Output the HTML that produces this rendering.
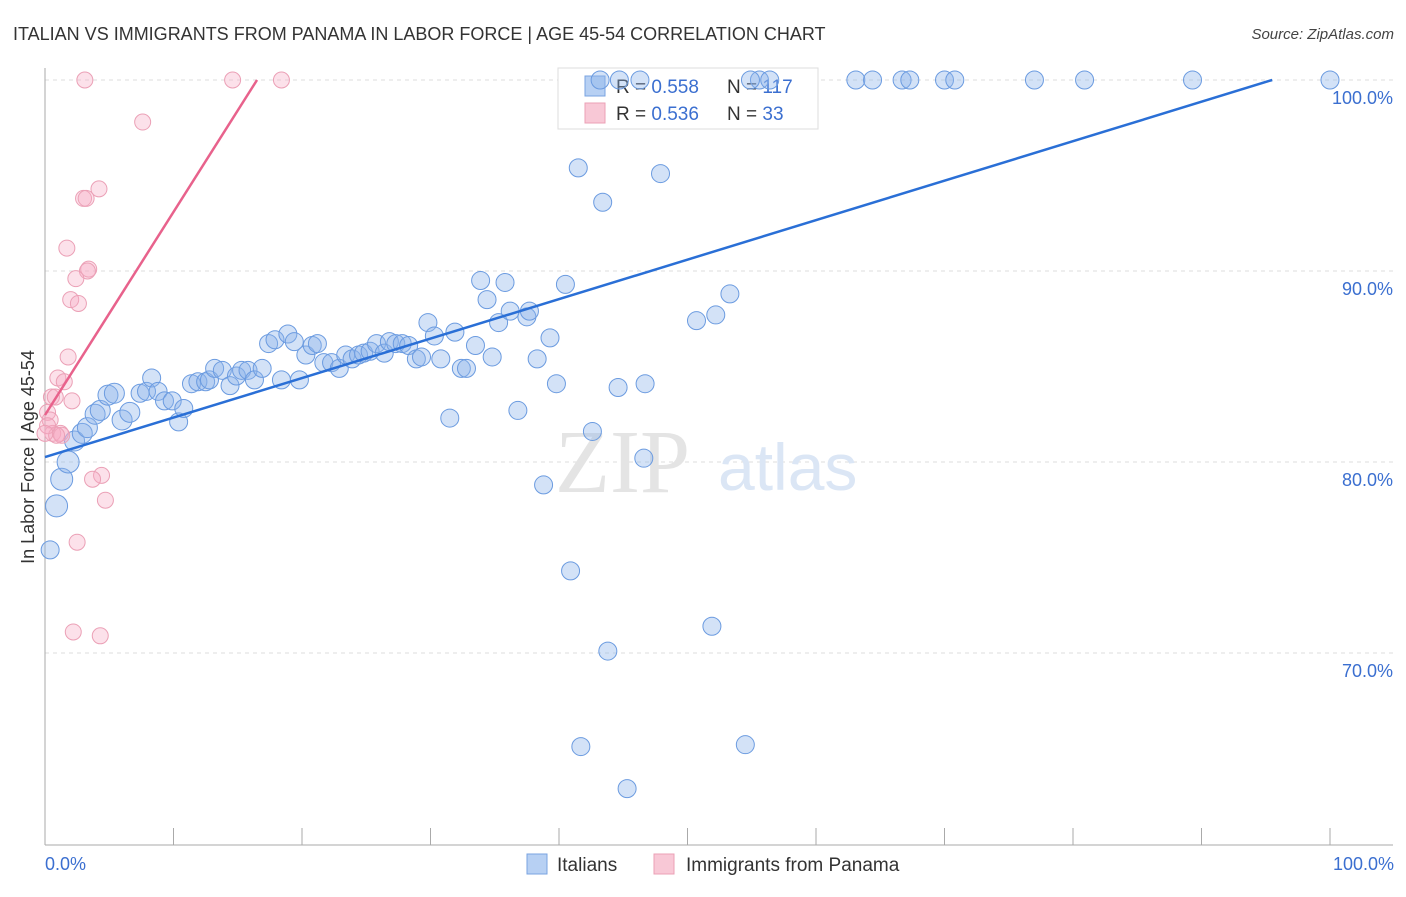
<!DOCTYPE html>
<html><head><meta charset="utf-8"><style>
body{margin:0;background:#fff;font-family:"Liberation Sans",sans-serif}
</style></head><body>
<svg id="chart" width="1406" height="892" xmlns="http://www.w3.org/2000/svg" font-family="Liberation Sans, sans-serif">
<text x="13" y="40" font-size="18" fill="#333">ITALIAN VS IMMIGRANTS FROM PANAMA IN LABOR FORCE | AGE 45-54 CORRELATION CHART</text>
<text x="1394" y="39" font-size="15" fill="#444" text-anchor="end" font-style="italic">Source: ZipAtlas.com</text>
<g id="grid"></g>
<text x="555" y="492" font-size="90" fill="#e4e4e4" font-family="Liberation Serif, serif">ZIP</text>
<text x="718" y="490" font-size="66" fill="#dbe6f5">atlas</text>
<g>
<rect x="558" y="68" width="260" height="61" fill="#fff" stroke="#ddd"/>
<rect x="585" y="76" width="20" height="20" fill="#b7d0f3" stroke="#7aa3e0"/>
<rect x="585" y="103" width="20" height="20" fill="#f8c8d6" stroke="#eba0b6"/>
<text x="616" y="93" font-size="19" fill="#333">R = <tspan fill="#3b6fd0">0.558</tspan></text>
<text x="727" y="93" font-size="19" fill="#333">N = <tspan fill="#3b6fd0"> 117</tspan></text>
<text x="616" y="120" font-size="19" fill="#333">R = <tspan fill="#3b6fd0">0.536</tspan></text>
<text x="727" y="120" font-size="19" fill="#333">N = <tspan fill="#3b6fd0">  33</tspan></text>
</g>
<g id="pts"></g>
<g id="lines"></g>
<text transform="translate(34,457) rotate(-90)" font-size="18" fill="#333" text-anchor="middle">In Labor Force | Age 45-54</text>
<text x="45" y="870" font-size="18" fill="#3b6fd0">0.0%</text>
<text x="1394" y="870" font-size="18" fill="#3b6fd0" text-anchor="end">100.0%</text>
<g>
<rect x="527" y="854" width="20" height="20" fill="#b7d0f3" stroke="#7aa3e0"/>
<text x="557" y="871" font-size="19" fill="#333">Italians</text>
<rect x="654" y="854" width="20" height="20" fill="#f8c8d6" stroke="#eba0b6"/>
<text x="686" y="871" font-size="19" fill="#333">Immigrants from Panama</text>
</g>
</svg>
<script>
const yTicks=[70,80,90,100];
const yTickLabels=["70.0%","80.0%","90.0%","100.0%"];
const italiansX=[0.4,0.9,1.3,1.8,2.3,2.9,3.3,3.9,4.3,4.9,5.4,6.0,6.6,7.4,7.9,8.3,8.8,9.3,9.9,10.4,10.8,11.4,11.9,12.5,12.8,13.2,13.8,14.4,14.9,15.3,15.8,16.3,16.9,17.4,17.9,18.4,18.9,19.4,19.8,20.3,20.8,21.2,21.7,22.3,22.9,23.4,23.9,24.4,24.8,25.3,25.8,26.4,26.8,27.3,27.8,28.3,28.9,29.3,29.8,30.3,30.8,31.5,31.9,32.4,32.8,33.5,33.9,34.4,34.8,35.3,35.8,36.2,36.8,37.5,37.7,38.3,38.8,39.3,39.8,40.5,40.9,41.5,41.7,42.6,43.4,43.8,44.6,45.3,46.3,46.6,46.7,47.9,50.7,51.9,52.2,53.3,54.5,55.6,56.4,63.1,64.4,66.7,67.3,70.0,70.8,77.0,80.9,89.3,100,43.2,44.7,54.9];
const italiansY=[75.4,77.7,79.1,80.0,81.1,81.5,81.8,82.5,82.7,83.5,83.6,82.2,82.6,83.6,83.7,84.4,83.7,83.2,83.2,82.1,82.8,84.1,84.2,84.2,84.3,84.9,84.8,84.0,84.5,84.8,84.8,84.3,84.9,86.2,86.4,84.3,86.7,86.3,84.3,85.6,86.1,86.2,85.2,85.2,84.9,85.6,85.4,85.6,85.7,85.8,86.2,85.7,86.3,86.2,86.2,86.1,85.4,85.5,87.3,86.6,85.4,82.3,86.8,84.9,84.9,86.1,89.5,88.5,85.5,87.3,89.4,87.9,82.7,87.6,87.9,85.4,78.8,86.5,84.1,89.3,74.3,95.4,65.1,81.6,93.6,70.1,83.9,62.9,100,80.2,84.1,95.1,87.4,71.4,87.7,88.8,65.2,100,100,100,100,100,100,100,100,100,100,100,100,100,100,100];
const italiansR=[9,11,11,11,10,10,10,10,10,10,10,10,10,9,9,9,9,9,9,9,9,9,9,9,9,9,9,9,9,9,9,9,9,9,9,9,9,9,9,9,9,9,9,9,9,9,9,9,9,9,9,9,9,9,9,9,9,9,9,9,9,9,9,9,9,9,9,9,9,9,9,9,9,9,9,9,9,9,9,9,9,9,9,9,9,9,9,9,9,9,9,9,9,9,9,9,9,9,9,9,9,9,9,9,9,9,9,9,9,9,9,9];
const panamaX=[3.1,14.6,18.4,7.6,3.0,3.2,4.2,1.7,3.4,3.3,2.4,2.0,2.6,1.8,1.0,1.5,0.5,0.8,2.1,0.2,0.4,0.6,1.2,1.3,0.9,4.4,3.7,4.7,2.5,2.2,4.3,0.2,0.0];
const panamaY=[100,100,100,97.8,93.8,93.8,94.3,91.2,90.1,90.0,89.6,88.5,88.3,85.5,84.4,84.2,83.4,83.4,83.2,82.6,82.2,81.5,81.5,81.4,81.4,79.3,79.1,78.0,75.8,71.1,70.9,81.9,81.5];
const blueLine=[0,80.26,95.5,100];
const pinkLine=[0,82.46,16.5,100];
const X=v=>45+v*12.85, Y=v=>80+(100-v)*19.1;
const NS="http://www.w3.org/2000/svg";
function mk(tag,attrs,parent){const e=document.createElementNS(NS,tag);for(const k in attrs)e.setAttribute(k,attrs[k]);parent.appendChild(e);return e;}
const grid=document.getElementById('grid');
yTicks.forEach((t,i)=>{
 const l=mk('line',{x1:45,x2:1393,y1:Y(t),y2:Y(t),stroke:'#ddd','stroke-dasharray':'4,4'},grid);
 
 
 const tx=mk('text',{x:1393,y:Y(t)+24,'font-size':18,fill:'#3b6fd0','text-anchor':'end'},grid);
 tx.textContent=yTickLabels[i];
 
 
});
const ax=mk('line',{x1:45,x2:45,y1:68,y2:845,stroke:'#aaa'},grid);


const bx=mk('line',{x1:45,x2:1393,y1:845,y2:845,stroke:'#aaa'},grid);


for(let i=0;i<=10;i++){const t=mk('line',{x1:X(i*10),x2:X(i*10),y1:828,y2:845,stroke:'#aaa'},grid);
 
 }
const pts=document.getElementById('pts');
italiansX.forEach((x,i)=>{const c=mk('circle',{cx:X(x),cy:Y(italiansY[i]),r:italiansR[i]||9,fill:'rgba(140,180,235,0.38)',stroke:'#6b9be0','stroke-width':1},pts);
 
 });
panamaX.forEach((x,i)=>{const c=mk('circle',{cx:X(x),cy:Y(panamaY[i]),r:8,fill:'rgba(245,170,195,0.35)',stroke:'#eba0b6','stroke-width':1},pts);
 
 });
const lines=document.getElementById('lines');
const b=mk('line',{x1:X(blueLine[0]),y1:Y(blueLine[1]),x2:X(blueLine[2]),y2:Y(blueLine[3]),stroke:'#2a6fd6','stroke-width':2.5},lines);


const p=mk('line',{x1:X(pinkLine[0]),y1:Y(pinkLine[1]),x2:X(pinkLine[2]),y2:Y(pinkLine[3]),stroke:'#e8628c','stroke-width':2.5},lines);


</script>
</body></html>
